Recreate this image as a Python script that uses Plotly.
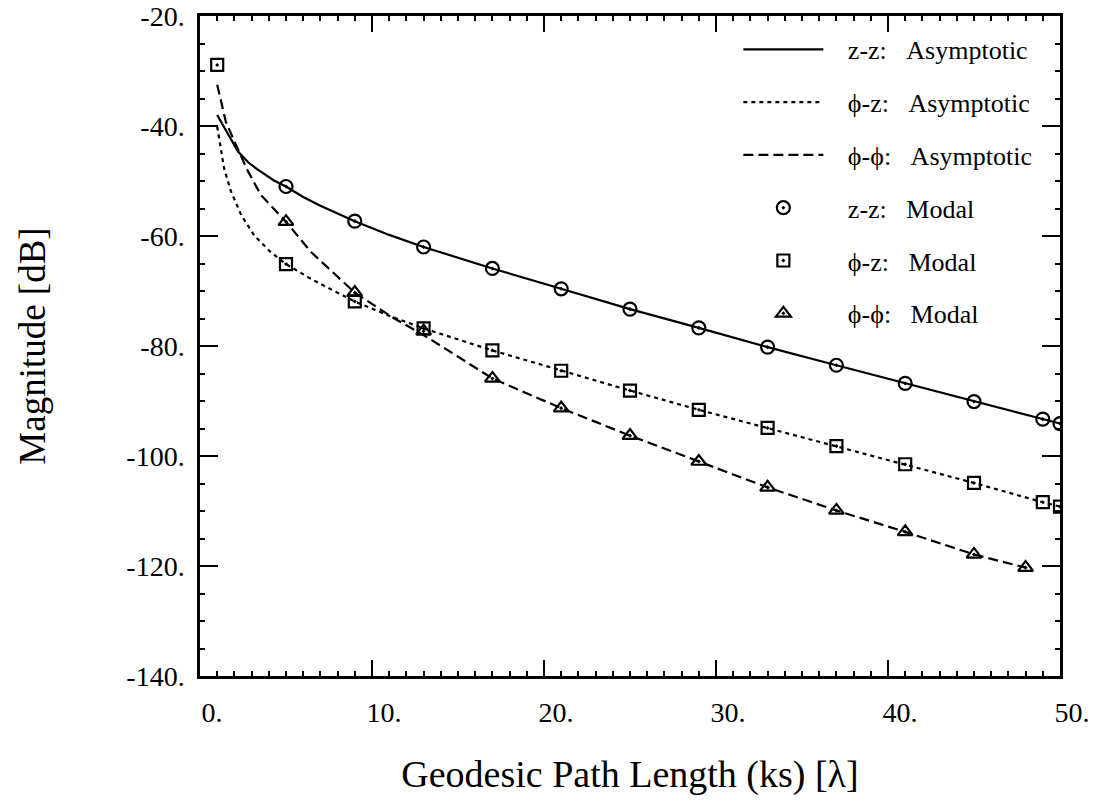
import plotly.graph_objects as go

# ---------------- data ----------------
# Modal solutions (markers)
zz_modal_x = [5, 9, 13, 17, 21, 25, 29, 33, 37, 41, 45, 49, 50]
zz_modal_y = [-51.0, -57.3, -62.0, -65.9, -69.6, -73.3, -76.7, -80.2, -83.5, -86.8, -90.1, -93.3, -94.1]

pz_modal_x = [1, 5, 9, 13, 17, 21, 25, 29, 33, 37, 41, 45, 49, 50]
pz_modal_y = [-28.9, -65.1, -71.9, -76.8, -80.8, -84.5, -88.1, -91.6, -94.9, -98.2, -101.5, -104.9, -108.4, -109.2]

pp_modal_x = [5, 9, 13, 17, 21, 25, 29, 33, 37, 41, 45, 48]
pp_modal_y = [-57.4, -70.3, -77.3, -85.9, -91.3, -96.3, -101.0, -105.7, -109.9, -113.8, -117.9, -120.3]

# Asymptotic solutions (curves)
zz_asym_x = [1.0, 1.3, 1.6, 2.2, 2.8, 3.3, 4.3, 5, 6, 7, 9, 11, 13, 17, 21, 25, 29, 33, 37, 41, 45, 49, 50]
zz_asym_y = [-38.0, -39.7, -41.4, -44.6, -46.6, -47.8, -49.9, -51.0, -52.9, -54.5, -57.3, -59.8, -62.0,
             -65.9, -69.6, -73.3, -76.7, -80.2, -83.5, -86.8, -90.1, -93.3, -94.1]

pz_asym_x = [1.0, 1.2, 1.4, 1.8, 2.4, 3.15, 4.1, 5, 6.45, 7.8, 9, 11, 13, 17, 21, 25, 29, 33, 37, 41, 45, 49, 50]
pz_asym_y = [-40.1, -44.0, -47.7, -51.9, -56.2, -59.9, -62.9, -65.1, -67.8, -70.0, -71.9, -74.5, -76.8,
             -80.8, -84.5, -88.1, -91.6, -94.9, -98.2, -101.5, -104.9, -108.4, -109.2]

pp_asym_x = [1.0, 1.5, 2.1, 2.8, 3.55, 5, 6.45, 9, 11.3, 13, 17, 21, 25, 29, 33, 37, 41, 45, 48]
pp_asym_y = [-32.5, -39.2, -43.5, -48.3, -52.6, -57.4, -62.9, -70.3, -75.0, -78.0, -85.9, -91.3,
             -96.3, -101.0, -105.7, -109.9, -113.8, -117.9, -120.3]

x_tickvals = [0, 10, 20, 30, 40, 50]
x_ticktext = ["0.", "10.", "20.", "30.", "40.", "50."]
y_tickvals = [-20, -40, -60, -80, -100, -120, -140]
y_ticktext = ["-20.", "-40.", "-60.", "-80.", "-100.", "-120.", "-140."]

# ---------------- figure ----------------
FONT = "Liberation Serif, Times New Roman, serif"
NB = "\u00a0"
LEAD = NB * 3
SP = NB * 3

fig = go.Figure()

fig.add_trace(go.Scatter(x=zz_asym_x, y=zz_asym_y, mode="lines", name=LEAD + "z-z:" + SP + "Asymptotic",
                         line=dict(color="black", width=2.2), legendgroup="a"))
fig.add_trace(go.Scatter(x=pz_asym_x, y=pz_asym_y, mode="lines", name=LEAD + "\u03d5-z:" + SP + "Asymptotic",
                         line=dict(color="black", width=2.2, dash="4px,4px"), legendgroup="b"))
fig.add_trace(go.Scatter(x=pp_asym_x, y=pp_asym_y, mode="lines", name=LEAD + "\u03d5-\u03d5:" + SP + "Asymptotic",
                         line=dict(color="black", width=2.2, dash="10px,5px"), legendgroup="c"))

mk_line = dict(color="black", width=2.2)
fig.add_trace(go.Scatter(x=zz_modal_x, y=zz_modal_y, mode="markers", name=LEAD + "z-z:" + SP + "Modal",
                         marker=dict(symbol="circle-open-dot", size=13, color="black", line=mk_line),
                         legendgroup="d"))
fig.add_trace(go.Scatter(x=pz_modal_x, y=pz_modal_y, mode="markers", name=LEAD + "\u03d5-z:" + SP + "Modal",
                         marker=dict(symbol="square-open-dot", size=12, color="black", line=mk_line),
                         legendgroup="e"))
fig.add_trace(go.Scatter(x=pp_modal_x, y=pp_modal_y, mode="markers", name=LEAD + "\u03d5-\u03d5:" + SP + "Modal",
                         marker=dict(symbol="triangle-up-open-dot", size=13, color="black", line=mk_line),
                         legendgroup="f"))

axis_common = dict(
    showline=True, linecolor="black", linewidth=2.5, mirror="ticks",
    showgrid=False, zeroline=False, automargin=False,
    ticks="inside", tickcolor="black", tickwidth=2,
    tickfont=dict(family=FONT, size=28, color="black"),
)

fig.update_xaxes(
    **axis_common,
    range=[0, 50], tickmode="array", tickvals=x_tickvals, ticktext=x_ticktext, ticklen=16,
    minor=dict(dtick=1, ticks="inside", ticklen=5, tickcolor="black", tickwidth=1.5, showgrid=False),
    ticklabelshift=12, ticklabelstandoff=10,
    title=dict(text="Geodesic Path Length (ks) [\u03bb]",
               font=dict(family=FONT, size=38, color="black"), standoff=34),
)
fig.update_yaxes(
    **axis_common,
    range=[-140, -20], tickmode="array", tickvals=y_tickvals, ticktext=y_ticktext, ticklen=18,
    minor=dict(dtick=5, ticks="inside", ticklen=5, tickcolor="black", tickwidth=1.5, showgrid=False),
    ticklabelstandoff=7,
    title=dict(text="Magnitude [dB]", font=dict(family=FONT, size=37, color="black"), standoff=70),
)

fig.update_layout(
    width=1108, height=810,
    margin=dict(l=200, r=48, t=16, b=134),
    paper_bgcolor="white", plot_bgcolor="white",
    font=dict(family=FONT, color="black"),
    showlegend=True,
    legend=dict(x=0.626, y=0.985, xanchor="left", yanchor="top", bgcolor="rgba(0,0,0,0)",
                font=dict(family=FONT, size=26, color="black"), itemwidth=80,
                tracegroupgap=16, traceorder="grouped"),
)

fig.write_html(
    "out.html",
    config={"displayModeBar": False},
    post_script=(
        "document.body.style.margin='0';document.body.style.padding='0';"
        "var p=document.getElementById('{plot_id}');"
        "p.parentElement.style.fontSize='0';p.parentElement.style.lineHeight='0';"
    ),
)
